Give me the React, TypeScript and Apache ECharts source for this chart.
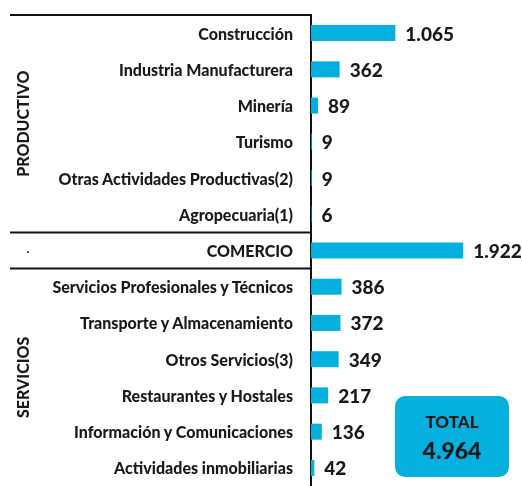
import React, { useEffect, useRef } from "react";
import * as echarts from "echarts";

const categories = [
  "Construcción",
  "Industria Manufacturera",
  "Minería",
  "Turismo",
  "Otras Actividades Productivas(2)",
  "Agropecuaria(1)",
  "COMERCIO",
  "Servicios Profesionales y Técnicos",
  "Transporte y Almacenamiento",
  "Otros Servicios(3)",
  "Restaurantes y Hostales",
  "Información y Comunicaciones",
  "Actividades inmobiliarias",
];
const values = [1065, 362, 89, 9, 9, 6, 1922, 386, 372, 349, 217, 136, 42];
const groups = [
  { name: "PRODUCTIVO", from: 0, to: 5 },
  { name: "·", from: 6, to: 6 },
  { name: "SERVICIOS", from: 7, to: 12 },
];
const totalLabel = "TOTAL";
const totalValue = "4.964";

const fmt = (v: number) => v.toString().replace(/\B(?=(\d{3})+(?!\d))/g, ".");

const FONT = "Lato";
const WEIGHT = 900;
const BLUE = "#05b0de";

export default function App() {
  const ref = useRef<HTMLDivElement>(null);
  useEffect(() => {
    if (!ref.current) return;
    const chart = echarts.init(ref.current, undefined, { renderer: "svg" });
    const gridLeft = 311;
    const gridTop = 15;
    chart.setOption({
      animation: false,
      grid: { left: gridLeft, right: 13, top: gridTop, bottom: 0, containLabel: false },
      xAxis: { type: "value", min: 0, max: 2500, show: false },
      yAxis: {
        type: "category",
        data: categories,
        inverse: true,
        axisLine: { show: true, lineStyle: { color: "#111", width: 2 } },
        axisTick: { show: false },
        axisLabel: {
          margin: 18,
          fontFamily: FONT,
          fontWeight: WEIGHT,
          fontSize: 16,
          color: "#1a1a1a",
        },
      },
      series: [
        {
          type: "bar",
          data: values,
          barWidth: 16,
          itemStyle: { color: BLUE },
          label: {
            show: true,
            position: "right",
            distance: 10,
            fontFamily: FONT,
            fontWeight: WEIGHT,
            fontSize: 19,
            color: "#1a1a1a",
            formatter: (p: any) => fmt(p.value),
          },
        },
      ],
    });
    const yAt = (i: number) => chart.convertToPixel({ yAxisIndex: 0 }, i) as number;
    const band = yAt(1) - yAt(0);
    const lineX1 = 10;
    const sepYs = [gridTop, yAt(5) + band / 2, yAt(6) + band / 2];
    const graphics: any[] = sepYs.map((y) => ({
      type: "line",
      shape: { x1: lineX1, y1: y, x2: gridLeft + 1, y2: y },
      style: { stroke: "#111", lineWidth: 2 },
    }));
    groups.forEach((g) => {
      const cy = (yAt(g.from) + yAt(g.to)) / 2;
      const vertical = g.name.length > 1;
      graphics.push({
        type: "text",
        x: vertical ? 22 : 28,
        y: cy,
        rotation: vertical ? Math.PI / 2 : 0,
        style: {
          text: g.name,
          fontFamily: FONT,
          fontWeight: WEIGHT,
          fontSize: vertical ? 16 : 10,
          fill: "#1a1a1a",
          align: "center",
          verticalAlign: "middle",
        },
      });
    });
    graphics.push({
      type: "rect",
      shape: { x: 395, y: 396, width: 114, height: 81, r: 10 },
      style: { fill: BLUE },
    });
    graphics.push({
      type: "text",
      x: 452,
      y: 421,
      style: {
        text: totalLabel,
        fontFamily: FONT,
        fontWeight: WEIGHT,
        fontSize: 17,
        fill: "#1a1a1a",
        align: "center",
        verticalAlign: "middle",
      },
    });
    graphics.push({
      type: "text",
      x: 452,
      y: 450,
      style: {
        text: totalValue,
        fontFamily: FONT,
        fontWeight: WEIGHT,
        fontSize: 23,
        fill: "#1a1a1a",
        align: "center",
        verticalAlign: "middle",
      },
    });
    chart.setOption({ graphic: graphics });
    return () => chart.dispose();
  }, []);
  return (
    <div
      ref={ref}
      style={{ position: "fixed", left: 0, top: 0, width: 522, height: 486 }}
    />
  );
}
